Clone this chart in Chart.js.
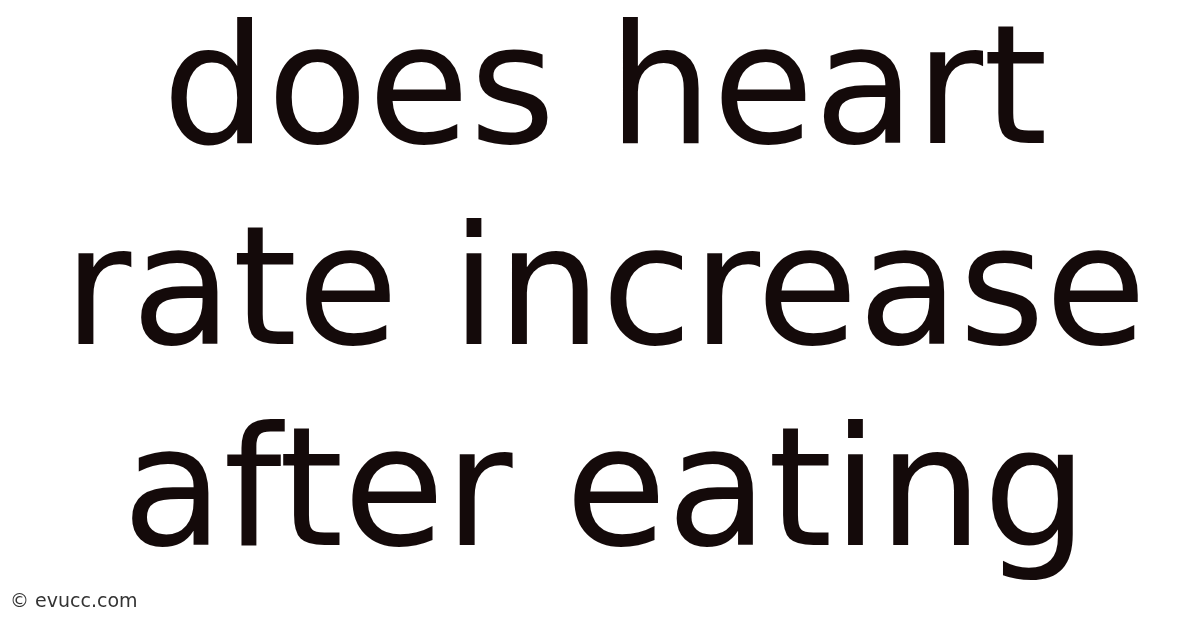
<!DOCTYPE html>
<html>
<head>
<meta charset="utf-8">
<script src="https://cdn.jsdelivr.net/npm/chart.js@4"></script>
<style>
  html, body { margin: 0; padding: 0; background: #ffffff; }
  #wrap { width: 1200px; height: 628px; }
</style>
</head>
<body>
<div id="wrap"><canvas id="headline"></canvas></div>
<script>
// text of the picture, one entry per line
const titleLines = ['does heart', 'rate increase', 'after eating'];
const footerLines = ['\u00a9 evucc.com'];
// no plotted series in this picture
const categories = [];
const seriesValues = [];

function drawHeadline() {
    const canvas = document.getElementById('headline');
    if (!canvas) {
        console.error("Canvas element 'headline' not found.");
        return;
    }
    const ctx = canvas.getContext('2d');

    const config = {
        type: 'bar',
        data: {
            labels: categories,
            datasets: [{ label: 'none', data: seriesValues }]
        },
        options: {
            responsive: true,
            maintainAspectRatio: false,
            animation: false,
            layout: { padding: { top: 0, bottom: 0, left: 10, right: 0 } },
            scales: { x: { display: false }, y: { display: false } },
            plugins: {
                legend: { display: false },
                tooltip: { enabled: false },
                title: {
                    display: true,
                    text: titleLines,
                    color: '#140a0a',
                    align: 'center',
                    // negative bottom padding so the footer box still fits below
                    padding: { top: 0, bottom: -80 },
                    font: { family: 'DejaVu Sans', size: 165, weight: 'normal', lineHeight: 1.217 }
                },
                subtitle: {
                    display: true,
                    position: 'bottom',
                    align: 'start',
                    text: footerLines,
                    color: '#333333',
                    padding: { top: 0, bottom: 15 },
                    font: { family: 'DejaVu Sans', size: 19, weight: 'normal' }
                }
            }
        }
    };

    new Chart(ctx, config);
}

drawHeadline();
</script>
</body>
</html>
